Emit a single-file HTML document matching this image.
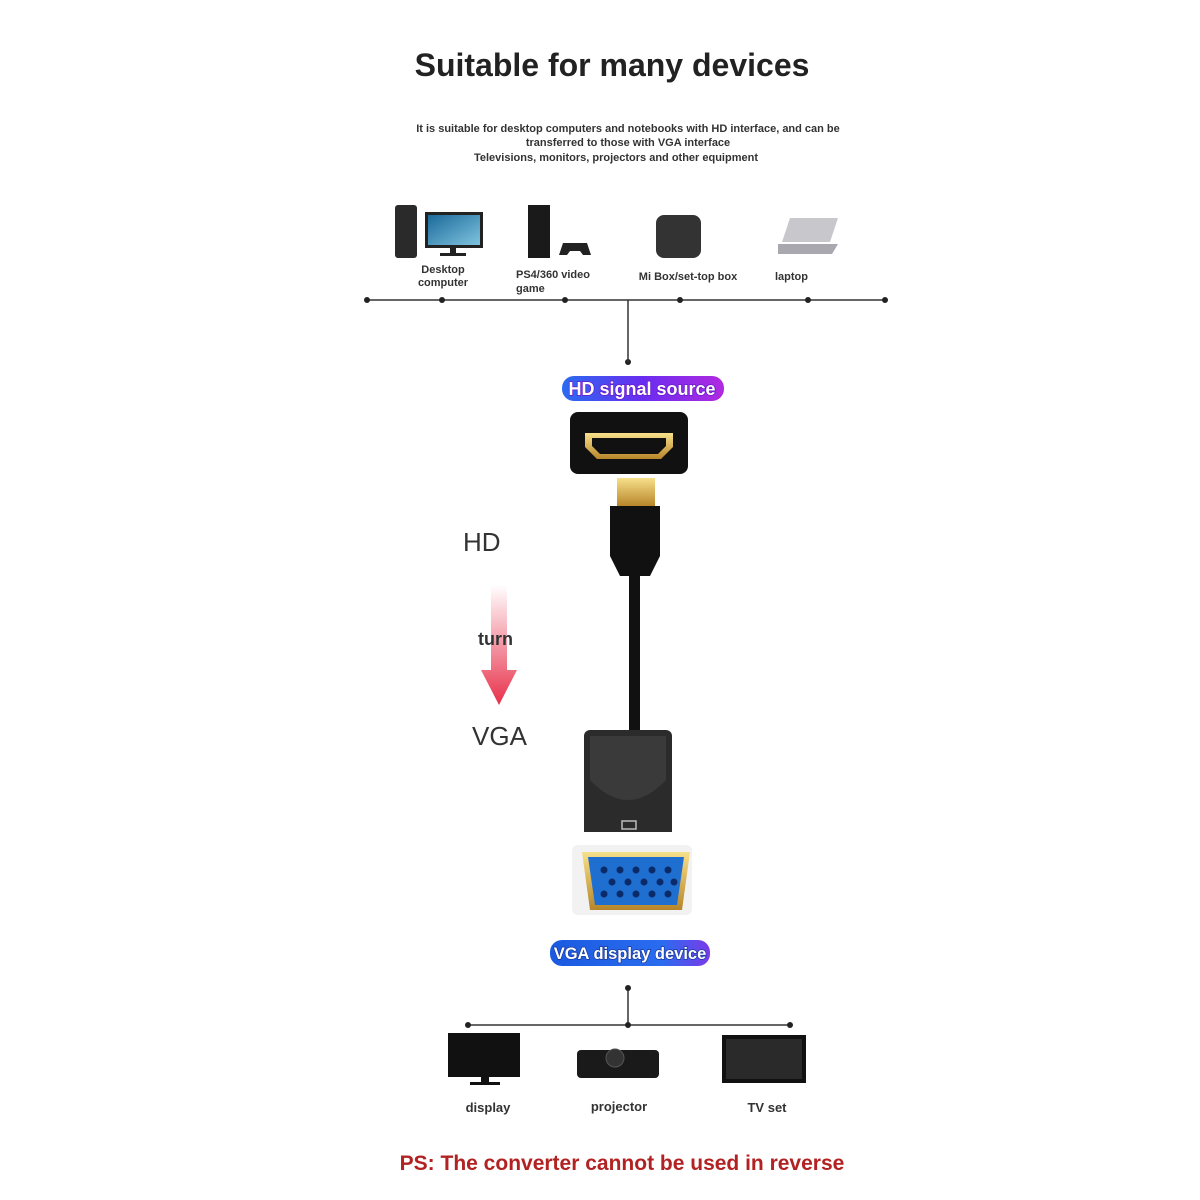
<!DOCTYPE html>
<html><head><meta charset="utf-8"><style>
body{margin:0;background:#fff;}
svg{display:block}
text{font-family:"Liberation Sans",sans-serif}
</style></head><body>
<svg width="1200" height="1200" viewBox="0 0 1200 1200">
<defs>
<linearGradient id="pill" x1="0" x2="1"><stop offset="0" stop-color="#2a6cf0"/><stop offset="0.5" stop-color="#6a2cf0"/><stop offset="1" stop-color="#b02ae0"/></linearGradient>
<linearGradient id="pill2" x1="0" x2="1"><stop offset="0" stop-color="#1a5ae0"/><stop offset="0.7" stop-color="#2a6cf0"/><stop offset="1" stop-color="#7a3ae8"/></linearGradient>
<linearGradient id="arr" x1="0" y1="0" x2="0" y2="1"><stop offset="0" stop-color="#fff"/><stop offset="1" stop-color="#e8304a"/></linearGradient>
<linearGradient id="gold" x1="0" y1="0" x2="0" y2="1"><stop offset="0" stop-color="#f7e08a"/><stop offset="1" stop-color="#b8862a"/></linearGradient>
<linearGradient id="scr" x1="0" y1="0" x2="1" y2="1"><stop offset="0" stop-color="#1b6a9a"/><stop offset="1" stop-color="#7fc3df"/></linearGradient>
</defs>
<text x="612" y="76" font-size="32" font-weight="bold" text-anchor="middle" fill="#222">Suitable for many devices</text>
<g font-size="11" font-weight="bold" fill="#333" text-anchor="middle">
<text x="628" y="132">It is suitable for desktop computers and notebooks with HD interface, and can be</text>
<text x="628" y="146">transferred to those with VGA interface</text>
<text x="616" y="161">Televisions, monitors, projectors and other equipment</text>
</g>
<rect x="395" y="205" width="22" height="53" rx="3" fill="#2a2a2a"/>
<rect x="425" y="212" width="58" height="36" fill="#222"/><rect x="428" y="215" width="52" height="30" fill="url(#scr)"/>
<rect x="450" y="248" width="6" height="6" fill="#222"/><rect x="440" y="253" width="26" height="3" fill="#222"/>
<rect x="528" y="205" width="22" height="53" fill="#1a1a1a"/>
<path d="M563 243 h24 l4 12 h-8 l-3-4 h-10 l-3 4 h-8z" fill="#222"/>
<rect x="656" y="215" width="45" height="43" rx="8" fill="#333"/>
<path d="M790 218 h48 l-8 24 h-48z" fill="#c8c8cc"/><path d="M778 244 h60 l-6 10 h-54z" fill="#a8a8ae"/>
<g font-size="11" font-weight="bold" fill="#333">
<text x="443" y="273" text-anchor="middle">Desktop</text><text x="443" y="286" text-anchor="middle">computer</text>
<text x="516" y="278">PS4/360 video</text><text x="516" y="292">game</text>
<text x="688" y="280" text-anchor="middle">Mi Box/set-top box</text>
<text x="775" y="280">laptop</text>
</g>
<line x1="367" y1="300" x2="885" y2="300" stroke="#333" stroke-width="1.5"/>
<g fill="#222"><circle cx="367" cy="300" r="3"/><circle cx="442" cy="300" r="3"/><circle cx="565" cy="300" r="3"/><circle cx="680" cy="300" r="3"/><circle cx="808" cy="300" r="3"/><circle cx="885" cy="300" r="3"/><circle cx="628" cy="362" r="3"/></g>
<line x1="628" y1="300" x2="628" y2="362" stroke="#333" stroke-width="1.5"/>
<rect x="562" y="376" width="162" height="25" rx="12" fill="url(#pill)"/>
<text x="642" y="395" font-size="18" font-weight="bold" text-anchor="middle" fill="#fff" stroke="#6a1ad0" stroke-width="1.5" paint-order="stroke">HD signal source</text>
<rect x="570" y="412" width="118" height="62" rx="8" fill="#111"/>
<path d="M585 433 h88 v14 l-12 12 h-64 l-12-12z" fill="url(#gold)"/><path d="M592 438 h74 v8 l-8 8 h-58 l-8-8z" fill="#111"/>
<rect x="617" y="478" width="38" height="28" fill="url(#gold)"/>
<path d="M610 506 h50 v50 l-10 20 h-30 l-10-20z" fill="#111"/>
<rect x="629" y="574" width="11" height="158" fill="#111"/>
<text x="463" y="551" font-size="26" fill="#333">HD</text>
<path d="M491 585 h16 v85 h10 l-18 35 l-18-35 h10z" fill="url(#arr)"/>
<text x="478" y="645" font-size="18" font-weight="bold" fill="#333">turn</text>
<text x="472" y="745" font-size="26" fill="#333">VGA</text>
<path d="M590 730 h76 a6 6 0 0 1 6 6 v96 h-88 v-96 a6 6 0 0 1 6-6z" fill="#2b2b2b"/>
<path d="M590 780 q38 40 76 0 v-44 h-76z" fill="#3a3a3a"/>
<rect x="622" y="821" width="14" height="8" fill="none" stroke="#bbb" stroke-width="1.5"/>
<rect x="572" y="845" width="120" height="70" rx="6" fill="#f2f2f2"/>
<path d="M582 852 h108 l-8 58 h-92z" fill="url(#gold)"/>
<path d="M588 857 h96 l-7 48 h-82z" fill="#1e6fd0"/>
<g fill="#0b2a6a">
<circle cx="604" cy="870" r="3.5"/><circle cx="620" cy="870" r="3.5"/><circle cx="636" cy="870" r="3.5"/><circle cx="652" cy="870" r="3.5"/><circle cx="668" cy="870" r="3.5"/>
<circle cx="612" cy="882" r="3.5"/><circle cx="628" cy="882" r="3.5"/><circle cx="644" cy="882" r="3.5"/><circle cx="660" cy="882" r="3.5"/><circle cx="674" cy="882" r="3.5"/>
<circle cx="604" cy="894" r="3.5"/><circle cx="620" cy="894" r="3.5"/><circle cx="636" cy="894" r="3.5"/><circle cx="652" cy="894" r="3.5"/><circle cx="668" cy="894" r="3.5"/>
</g>
<rect x="550" y="940" width="160" height="26" rx="12" fill="url(#pill2)"/>
<text x="630" y="959" font-size="16.5" font-weight="bold" text-anchor="middle" fill="#fff" stroke="#1a3aa0" stroke-width="1.5" paint-order="stroke">VGA display device</text>
<line x1="628" y1="988" x2="628" y2="1025" stroke="#333" stroke-width="1.5"/>
<line x1="468" y1="1025" x2="790" y2="1025" stroke="#333" stroke-width="1.5"/>
<g fill="#222"><circle cx="628" cy="988" r="3"/><circle cx="468" cy="1025" r="3"/><circle cx="628" cy="1025" r="3"/><circle cx="790" cy="1025" r="3"/></g>
<rect x="448" y="1033" width="72" height="44" fill="#111"/><rect x="481" y="1077" width="8" height="6" fill="#111"/><rect x="470" y="1082" width="30" height="3" fill="#111"/>
<rect x="577" y="1050" width="82" height="28" rx="4" fill="#1a1a1a"/><circle cx="615" cy="1058" r="9" fill="#333" stroke="#555"/>
<rect x="722" y="1035" width="84" height="48" fill="#111"/><rect x="726" y="1039" width="76" height="40" fill="#2a2a2a"/>
<g font-size="13" font-weight="bold" fill="#333" text-anchor="middle">
<text x="488" y="1112">display</text><text x="619" y="1111">projector</text><text x="767" y="1112">TV set</text>
</g>
<text x="622" y="1170" font-size="21" font-weight="bold" text-anchor="middle" fill="#b22222">PS: The converter cannot be used in reverse</text>
</svg>
</body></html>
